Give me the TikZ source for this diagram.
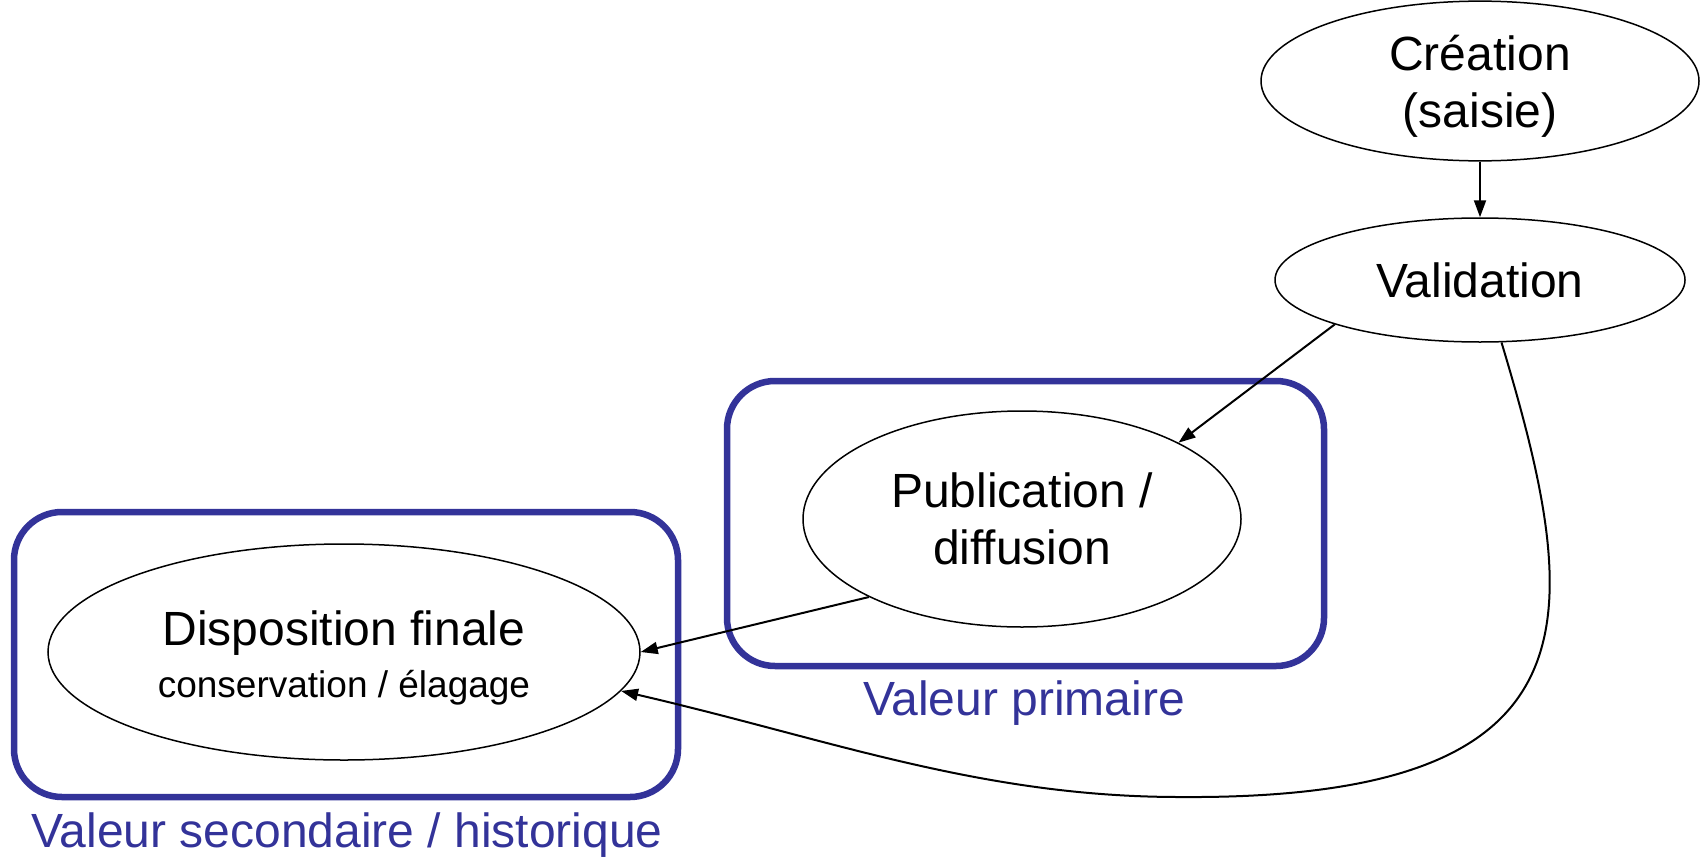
\documentclass[tikz,border=0pt]{standalone}
\usepackage{fontspec}
\setmainfont{Liberation Sans}
\usetikzlibrary{shapes.geometric, arrows.meta, positioning}
\definecolor{bleuval}{RGB}{51,51,153}

\begin{document}
\begin{tikzpicture}[x=1pt, y=-1pt,
    etape/.style={ellipse, draw, line width=1.5pt, inner sep=0pt, align=center,
                  font=\fontsize{48}{57}\selectfont},
    groupe/.style={draw=bleuval, line width=6.5pt, rounded corners=48pt, inner sep=0pt},
    legende/.style={text=bleuval, anchor=base, font=\fontsize{48}{57}\selectfont},
    fleche/.style={-{Triangle[length=17pt, width=12pt]}, line width=2pt}]
  \useasboundingbox (0,0) rectangle (1707,859);
  \node [groupe, minimum width=597pt, minimum height=285pt] (primaire) at (1025.5,523.5) {};
  \node [groupe, minimum width=664pt, minimum height=285pt] (secondaire) at (346,654.5) {};
  \node [etape, minimum width=438pt, minimum height=142pt] (creation) at (1480,81)
        {\rule{0pt}{46pt}Création\\(saisie)};
  \node [etape, minimum width=410pt, minimum height=124pt] (validation) at (1480,280) {Validation};
  \node [etape, minimum width=438pt, minimum height=216pt] (publication) at (1022,519) {Publication /\\diffusion};
  \node [etape, minimum width=592pt, minimum height=216pt] (disposition) at (344,652)
        {\rule{0pt}{47pt}Disposition finale\\[-5pt]{\fontsize{37}{45}\selectfont conservation / élagage}};
  \node [legende] (lprimaire) at (1024,715) {Valeur primaire};
  \node [legende] (lsecondaire) at (347,847) {Valeur secondaire / historique};
  \draw [fleche] (creation) -- (validation);
  \draw [fleche] (validation.197) -- (publication.26);
  \draw [fleche] (publication.207) -- (disposition.east);
  \draw [fleche] (validation.-71) .. controls (1585,620) and (1605,800) .. (1180,797)
        .. controls (980,797) and (829,739) .. (disposition.-8);
\end{tikzpicture}
\end{document}
